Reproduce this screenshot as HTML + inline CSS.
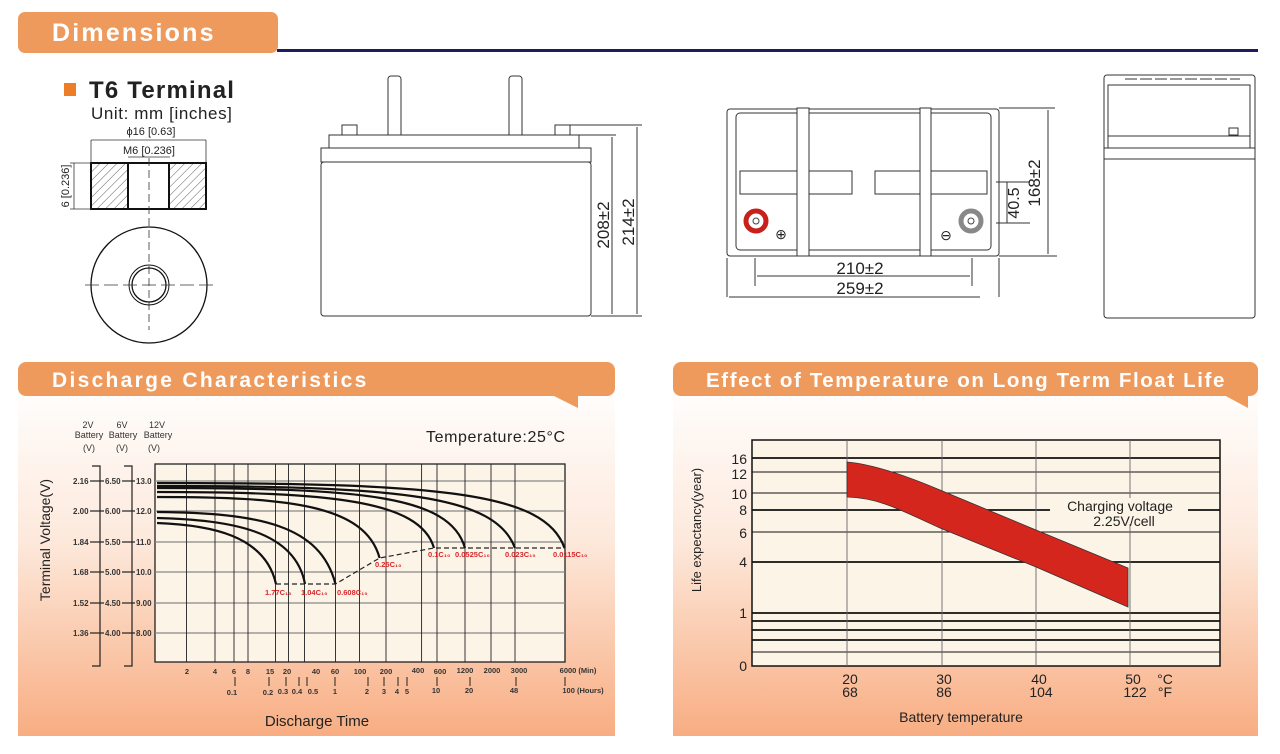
<!DOCTYPE html>
<html><head><meta charset="utf-8"><style>
html,body{margin:0;padding:0;background:#fff;}
svg{display:block;font-family:"Liberation Sans",Arial,sans-serif;}
</style></head><body>
<svg width="1280" height="754" viewBox="0 0 1280 754" xmlns="http://www.w3.org/2000/svg">
<defs>
<linearGradient id="pg" x1="0" y1="0" x2="0" y2="1">
<stop offset="0" stop-color="#ffffff"/><stop offset="0.45" stop-color="#fde9dc"/><stop offset="1" stop-color="#f8ad82"/>
</linearGradient>
<pattern id="hatch" width="6" height="6" patternUnits="userSpaceOnUse" patternTransform="rotate(45)">
<line x1="0" y1="0" x2="0" y2="6" stroke="#333" stroke-width="0.8"/></pattern>
</defs>

<!-- Dimensions header -->
<rect x="18" y="12" width="260" height="41" rx="7" fill="#ef9a5d"/>
<text x="52" y="41" font-size="25" font-weight="bold" fill="#fff" letter-spacing="2.2">Dimensions</text>
<rect x="277" y="49" width="981" height="3" fill="#1f1b5c"/>

<!-- T6 terminal -->
<rect x="64" y="83" width="12" height="13" fill="#ee7d2a"/>
<text x="89" y="98" font-size="24" font-weight="bold" fill="#222" letter-spacing="1.2">T6 Terminal</text>
<text x="91" y="119" font-size="17" fill="#222" letter-spacing="0.6">Unit: mm [inches]</text>
<text x="151" y="135" font-size="11" fill="#222" text-anchor="middle">ϕ16 [0.63]</text>
<line x1="91" y1="140" x2="206" y2="140" stroke="#333" stroke-width="0.8"/>
<line x1="91" y1="140" x2="91" y2="163" stroke="#333" stroke-width="0.8"/>
<line x1="206" y1="140" x2="206" y2="163" stroke="#333" stroke-width="0.8"/>
<text x="149" y="154" font-size="11" fill="#222" text-anchor="middle">M6 [0.236]</text>
<line x1="128" y1="157" x2="170" y2="157" stroke="#333" stroke-width="0.8"/>
<rect x="91" y="163" width="37" height="46" fill="url(#hatch)" stroke="#111" stroke-width="2"/>
<rect x="169" y="163" width="37" height="46" fill="url(#hatch)" stroke="#111" stroke-width="2"/>
<rect x="128" y="163" width="41" height="46" fill="none" stroke="#111" stroke-width="2"/>
<line x1="149" y1="158" x2="149" y2="330" stroke="#333" stroke-width="0.8" stroke-dasharray="8,4"/>
<line x1="70" y1="163" x2="91" y2="163" stroke="#333" stroke-width="0.8"/>
<line x1="70" y1="209" x2="91" y2="209" stroke="#333" stroke-width="0.8"/>
<line x1="74" y1="163" x2="74" y2="209" stroke="#333" stroke-width="0.8"/>
<text transform="translate(69,186) rotate(-90)" font-size="11" fill="#222" text-anchor="middle">6 [0.236]</text>
<circle cx="149" cy="285" r="58" fill="none" stroke="#111" stroke-width="1.3"/>
<circle cx="149" cy="285" r="20" fill="none" stroke="#111" stroke-width="1"/>
<circle cx="149" cy="285" r="17" fill="none" stroke="#111" stroke-width="1.3"/>
<line x1="85" y1="285" x2="213" y2="285" stroke="#333" stroke-width="0.8" stroke-dasharray="14,5"/>

<!-- Side view -->
<g stroke="#333" stroke-width="1" fill="none">
<rect x="388" y="76" width="13" height="71" rx="3" fill="#fff"/>
<rect x="509" y="76" width="13" height="71" rx="3" fill="#fff"/>
<rect x="342" y="125" width="15" height="10"/>
<rect x="555" y="125" width="15" height="10"/>
<rect x="329" y="135" width="250" height="13" fill="#fff"/>
<rect x="321" y="148" width="270" height="14"/>
<rect x="321" y="162" width="270" height="154" rx="3"/>
<line x1="579" y1="135" x2="616" y2="135"/>
<line x1="570" y1="125" x2="642" y2="125"/>
<line x1="591" y1="316" x2="642" y2="316"/>
<line x1="612" y1="137" x2="612" y2="314"/>
<line x1="637" y1="127" x2="637" y2="314"/>
</g>
<text transform="translate(609,225) rotate(-90)" font-size="17" fill="#222" text-anchor="middle">208±2</text>
<text transform="translate(634,222) rotate(-90)" font-size="17" fill="#222" text-anchor="middle">214±2</text>

<!-- Top view -->
<g stroke="#333" stroke-width="1" fill="none">
<rect x="727" y="109" width="272" height="147" rx="3"/>
<rect x="736" y="113" width="255" height="137" rx="4"/>
<rect x="740" y="171" width="112" height="23"/>
<rect x="875" y="171" width="112" height="23"/>
<rect x="797" y="108" width="12" height="148" fill="#fff"/>
<rect x="920" y="108" width="11" height="148" fill="#fff"/>
<line x1="999" y1="108" x2="1055" y2="108"/>
<line x1="999" y1="256" x2="1057" y2="256"/>
<line x1="1048" y1="110" x2="1048" y2="254"/>
<line x1="996" y1="182" x2="1030" y2="182"/>
<line x1="996" y1="223" x2="1030" y2="223"/>
<line x1="1007" y1="182" x2="1007" y2="223"/>
<line x1="755" y1="258" x2="755" y2="286"/>
<line x1="972" y1="258" x2="972" y2="286"/>
<line x1="727" y1="258" x2="727" y2="297"/>
<line x1="999" y1="258" x2="999" y2="297"/>
<line x1="757" y1="276" x2="970" y2="276"/>
<line x1="729" y1="297" x2="980" y2="297"/>
</g>
<circle cx="756" cy="221" r="10" fill="#fff" stroke="#c8201b" stroke-width="5"/>
<circle cx="756" cy="221" r="3" fill="none" stroke="#444"/>
<circle cx="971" cy="221" r="10" fill="#fff" stroke="#888" stroke-width="5"/>
<circle cx="971" cy="221" r="3" fill="none" stroke="#444"/>
<text x="781" y="239" font-size="14" text-anchor="middle" fill="#222">⊕</text>
<text x="946" y="240" font-size="14" text-anchor="middle" fill="#222">⊖</text>
<text transform="translate(1019,203) rotate(-90)" font-size="16" fill="#222" text-anchor="middle">40.5</text>
<text transform="translate(1040,183) rotate(-90)" font-size="17" fill="#222" text-anchor="middle">168±2</text>
<text x="860" y="274" font-size="17" fill="#222" text-anchor="middle">210±2</text>
<text x="860" y="294" font-size="17" fill="#222" text-anchor="middle">259±2</text>

<!-- End view -->
<g stroke="#333" stroke-width="1" fill="none">
<rect x="1104" y="75" width="151" height="243" rx="3"/>
<rect x="1108" y="85" width="142" height="63"/>
<line x1="1104" y1="148" x2="1255" y2="148"/>
<line x1="1104" y1="159" x2="1255" y2="159"/>
<line x1="1108" y1="136" x2="1250" y2="136"/>
<rect x="1229" y="128" width="9" height="7"/>
<line x1="1125" y1="79" x2="1240" y2="79" stroke-dasharray="12,3"/>
</g>

<!-- Discharge panel -->
<rect x="18" y="380" width="597" height="356" fill="url(#pg)"/>
<rect x="18" y="362" width="597" height="34" rx="8" fill="#ef9a5d"/>
<polygon points="550,394 578,394 578,408" fill="#ef9a5d"/>
<text x="52" y="387" font-size="21" font-weight="bold" fill="#fff" letter-spacing="2.3">Discharge Characteristics</text>

<text x="426" y="442" font-size="16" fill="#222" letter-spacing="0.6">Temperature:25°C</text>
<g font-size="9" fill="#333" text-anchor="middle">
<text x="88" y="428">2V</text><text x="122" y="428">6V</text><text x="157" y="428">12V</text>
<text x="89" y="438">Battery</text><text x="123" y="438">Battery</text><text x="158" y="438">Battery</text>
<text x="89" y="451">(V)</text><text x="122" y="451">(V)</text><text x="154" y="451">(V)</text>
</g>
<rect x="155" y="464" width="410" height="198" fill="#fdf4e8" stroke="#222" stroke-width="1.3"/>
<g stroke="#888" stroke-width="1.3">
<line x1="155" y1="481" x2="565" y2="481"/><line x1="155" y1="511" x2="565" y2="511"/>
<line x1="155" y1="542" x2="565" y2="542"/><line x1="155" y1="572" x2="565" y2="572"/>
<line x1="155" y1="603" x2="565" y2="603"/><line x1="155" y1="633" x2="565" y2="633"/>
</g>
<g stroke="#222" stroke-width="0.9">
<line x1="186.5" y1="464" x2="186.5" y2="662"/><line x1="215" y1="464" x2="215" y2="662"/>
<line x1="234" y1="464" x2="234" y2="662"/><line x1="248" y1="464" x2="248" y2="662"/>
<line x1="275.5" y1="464" x2="275.5" y2="662"/><line x1="288.5" y1="464" x2="288.5" y2="662"/>
<line x1="304.5" y1="464" x2="304.5" y2="662"/><line x1="335.5" y1="464" x2="335.5" y2="662"/>
<line x1="359.5" y1="464" x2="359.5" y2="662"/><line x1="386" y1="464" x2="386" y2="662"/>
<line x1="421.6" y1="464" x2="421.6" y2="662"/><line x1="437" y1="464" x2="437" y2="662"/>
<line x1="465" y1="464" x2="465" y2="662"/><line x1="491" y1="464" x2="491" y2="662"/>
<line x1="515" y1="464" x2="515" y2="662"/>
</g>
<g fill="none" stroke="#111" stroke-width="2.2">
<path d="M157,523 C210,525 265,535 276,584"/>
<path d="M157,518 C230,520 295,530 305,584"/>
<path d="M157,512 C260,513 320,525 335.5,584"/>
<path d="M157,497 C290,497 365,505 379.6,558"/>
<path d="M157,492 C330,492 420,500 434,548"/>
<path d="M157,488 C360,488 450,495 465,548"/>
<path d="M157,486 C400,486 495,495 515,548"/>
<path d="M157,483 C440,483 545,492 564.5,548"/>
</g>
<path d="M276,584 L335.5,584 L379.6,558 L434,548 L564.5,548" fill="none" stroke="#222" stroke-width="1.2" stroke-dasharray="5,3"/>
<g font-size="7.5" font-weight="bold" fill="#d8262a">
<text x="265" y="595">1.77C₁₀</text><text x="301" y="595">1.04C₁₀</text><text x="337" y="595">0.608C₁₀</text>
<text x="375" y="567">0.25C₁₀</text><text x="428" y="557">0.1C₁₀</text><text x="455" y="557">0.0525C₁₀</text>
<text x="505" y="557">0.023C₁₀</text><text x="553" y="557">0.0115C₁₀</text>
</g>
<g stroke="#222" stroke-width="1.2" fill="none">
<path d="M92,466 H100 V666 H92"/><path d="M124,466 H132 V666 H124"/>
<line x1="90" y1="481" x2="104" y2="481"/><line x1="90" y1="511" x2="104" y2="511"/>
<line x1="90" y1="542" x2="104" y2="542"/><line x1="90" y1="572" x2="104" y2="572"/>
<line x1="90" y1="603" x2="104" y2="603"/><line x1="90" y1="633" x2="104" y2="633"/>
<line x1="122" y1="481" x2="135" y2="481"/><line x1="122" y1="511" x2="135" y2="511"/>
<line x1="122" y1="542" x2="135" y2="542"/><line x1="122" y1="572" x2="135" y2="572"/>
<line x1="122" y1="603" x2="135" y2="603"/><line x1="122" y1="633" x2="135" y2="633"/>
</g>
<g font-size="8" font-weight="bold" fill="#333">
<text x="73" y="484">2.16</text><text x="73" y="514">2.00</text><text x="73" y="545">1.84</text>
<text x="73" y="575">1.68</text><text x="73" y="606">1.52</text><text x="73" y="636">1.36</text>
<text x="105" y="484">6.50</text><text x="105" y="514">6.00</text><text x="105" y="545">5.50</text>
<text x="105" y="575">5.00</text><text x="105" y="606">4.50</text><text x="105" y="636">4.00</text>
<text x="136" y="484">13.0</text><text x="136" y="514">12.0</text><text x="136" y="545">11.0</text>
<text x="136" y="575">10.0</text><text x="136" y="606">9.00</text><text x="136" y="636">8.00</text>
</g>
<g font-size="7.5" font-weight="bold" fill="#333" text-anchor="middle">
<text x="187" y="674">2</text><text x="215" y="674">4</text><text x="234" y="674">6</text><text x="248" y="674">8</text>
<text x="270" y="674">15</text><text x="287" y="674">20</text><text x="316" y="674">40</text><text x="335" y="674">60</text>
<text x="360" y="674">100</text><text x="386" y="674">200</text><text x="418" y="673">400</text><text x="440" y="674">600</text>
<text x="465" y="673">1200</text><text x="492" y="673">2000</text><text x="519" y="673">3000</text><text x="578" y="673">6000 (Min)</text>
<text x="232" y="695">0.1</text><text x="268" y="695">0.2</text><text x="283" y="694">0.3</text><text x="297" y="694">0.4</text>
<text x="313" y="694">0.5</text><text x="335" y="694">1</text><text x="367" y="694">2</text><text x="384" y="694">3</text>
<text x="397" y="694">4</text><text x="407" y="694">5</text><text x="436" y="693">10</text><text x="469" y="693">20</text>
<text x="514" y="693">48</text><text x="583" y="693">100 (Hours)</text>
</g>
<g stroke="#222" stroke-width="1">
<line x1="235" y1="677" x2="235" y2="686"/><line x1="269" y1="677" x2="269" y2="686"/><line x1="286" y1="677" x2="286" y2="686"/>
<line x1="299" y1="677" x2="299" y2="686"/><line x1="307" y1="677" x2="307" y2="686"/><line x1="335" y1="677" x2="335" y2="686"/>
<line x1="368" y1="677" x2="368" y2="686"/><line x1="384" y1="677" x2="384" y2="686"/><line x1="398" y1="677" x2="398" y2="686"/>
<line x1="407" y1="677" x2="407" y2="686"/><line x1="437" y1="677" x2="437" y2="686"/><line x1="470" y1="677" x2="470" y2="686"/>
<line x1="516" y1="677" x2="516" y2="686"/><line x1="565" y1="677" x2="565" y2="686"/>
</g>
<text transform="translate(50,540) rotate(-90)" font-size="14" fill="#222" text-anchor="middle">Terminal Voltage(V)</text>
<text x="317" y="726" font-size="15" fill="#222" text-anchor="middle">Discharge Time</text>

<!-- Temperature panel -->
<rect x="673" y="380" width="585" height="356" fill="url(#pg)"/>
<rect x="673" y="362" width="585" height="34" rx="8" fill="#ef9a5d"/>
<polygon points="1222,394 1248,394 1248,408" fill="#ef9a5d"/>
<text x="706" y="387" font-size="20.5" font-weight="bold" fill="#fff" letter-spacing="1.6">Effect of Temperature on Long Term Float Life</text>

<rect x="752" y="440" width="468" height="226" fill="#fdf4e8" stroke="#111" stroke-width="1.5"/>
<g stroke="#111">
<line x1="752" y1="458" x2="1220" y2="458" stroke-width="1.8"/>
<line x1="752" y1="472" x2="1220" y2="472" stroke-width="1"/>
<line x1="752" y1="493" x2="1220" y2="493" stroke-width="1"/>
<line x1="752" y1="510" x2="1220" y2="510" stroke-width="1.8"/>
<line x1="752" y1="532" x2="1220" y2="532" stroke-width="1"/>
<line x1="752" y1="562" x2="1220" y2="562" stroke-width="1.8"/>
<line x1="752" y1="613" x2="1220" y2="613" stroke-width="1.8"/>
<line x1="752" y1="621" x2="1220" y2="621" stroke-width="1.8"/>
<line x1="752" y1="630" x2="1220" y2="630" stroke-width="1.8"/>
<line x1="752" y1="640" x2="1220" y2="640" stroke-width="1.8"/>
<line x1="752" y1="652" x2="1220" y2="652" stroke-width="1"/>
</g>
<g stroke="#666" stroke-width="0.9">
<line x1="847" y1="440" x2="847" y2="666"/><line x1="942" y1="440" x2="942" y2="666"/>
<line x1="1036" y1="440" x2="1036" y2="666"/><line x1="1130" y1="440" x2="1130" y2="666"/>
</g>
<path d="M847,462 C870,464 900,473 940,490 L1036,530 L1128,568 L1128,607 L1036,567 L940,528 C900,510 880,498 847,497 Z" fill="#d5261e" stroke="#333" stroke-width="0.8"/>
<rect x="1050" y="498" width="138" height="26" fill="#fdf4e8"/>
<text x="1120" y="511" font-size="14" fill="#222" text-anchor="middle">Charging voltage</text>
<text x="1124" y="526" font-size="14" fill="#222" text-anchor="middle">2.25V/cell</text>
<g font-size="14" fill="#222" text-anchor="end">
<text x="747" y="464">16</text><text x="747" y="479">12</text><text x="747" y="499">10</text>
<text x="747" y="515">8</text><text x="747" y="538">6</text><text x="747" y="567">4</text>
<text x="747" y="618">1</text><text x="747" y="671">0</text>
</g>
<g font-size="14" fill="#222" text-anchor="middle">
<text x="850" y="684">20</text><text x="850" y="697">68</text>
<text x="944" y="684">30</text><text x="944" y="697">86</text>
<text x="1039" y="684">40</text><text x="1041" y="697">104</text>
<text x="1133" y="684">50</text><text x="1135" y="697">122</text>
<text x="1165" y="684">°C</text><text x="1165" y="697">°F</text>
</g>
<text x="961" y="722" font-size="14" fill="#222" text-anchor="middle">Battery temperature</text>
<text transform="translate(701,530) rotate(-90)" font-size="13" fill="#222" text-anchor="middle">Life expectancy(year)</text>
</svg>
</body></html>
